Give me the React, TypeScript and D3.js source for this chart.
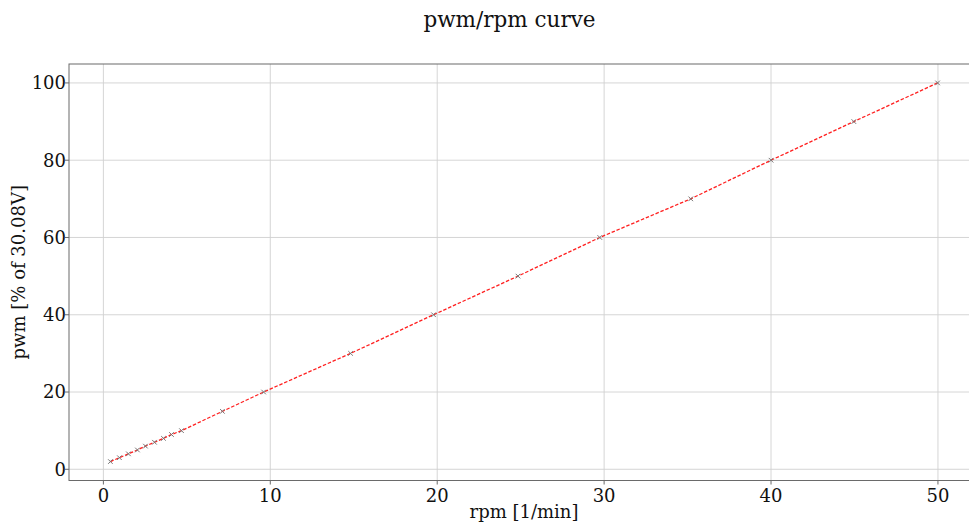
import React from "react";
import * as d3 from "d3";

const rpm = [0.42, 0.96, 1.5, 2.04, 2.52, 3.06, 3.6, 4.08, 4.68, 7.13, 9.6, 14.81, 19.78, 24.84, 29.74, 35.19, 40.0, 44.96, 49.98];
const pwm = [2, 3, 4, 5, 6, 7, 8, 9, 10, 15, 20, 30, 40, 50, 60, 70, 80, 90, 100];
const xTicks = [0, 10, 20, 30, 40, 50];
const yTicks = [0, 20, 40, 60, 80, 100];

const W = 969;
const H = 524;
const FONT = "'DejaVu Serif', serif";

export default function App() {
  const x = d3.scaleLinear().domain([-2.06, 52.46]).range([69, 979]);
  const y = d3.scaleLinear().domain([-2.9, 104.9]).range([480.5, 64]);
  const pts = rpm.map((r, i) => [r, pwm[i]] as [number, number]);
  const line = d3.line<[number, number]>().x(d => x(d[0])).y(d => y(d[1]))(pts) || "";
  const left = 69, right = 979, top = 64, bottom = 480.5;
  return (
    <svg width={W} height={H} style={{ position: "fixed", left: 0, top: 0, background: "#fff" }} fontFamily={FONT}>
      <rect x={0} y={0} width={W} height={H} fill="#fff" />
      {xTicks.map(t => (
        <line key={"gx" + t} x1={x(t)} x2={x(t)} y1={top} y2={bottom} stroke="#d0d0d0" strokeWidth={0.9} />
      ))}
      {yTicks.map(t => (
        <line key={"gy" + t} x1={left} x2={right} y1={y(t)} y2={y(t)} stroke="#d0d0d0" strokeWidth={0.9} />
      ))}
      <rect x={left} y={top} width={right - left} height={bottom - top} fill="none" stroke="#6a6a6a" strokeWidth={1} />
      {xTicks.map(t => (
        <g key={"tx" + t}>
          <line x1={x(t)} x2={x(t)} y1={bottom} y2={bottom + 4} stroke="#6a6a6a" />
          <text x={x(t)} y={502} textAnchor="middle" fontSize={18} fill="#111">{t}</text>
        </g>
      ))}
      {yTicks.map(t => (
        <g key={"ty" + t}>
          <line x1={left - 4} x2={left} y1={y(t)} y2={y(t)} stroke="#6a6a6a" />
          <text x={left - 3} y={y(t)} dy="0.35em" textAnchor="end" fontSize={18} fill="#111">{t}</text>
        </g>
      ))}
      <path d={line} fill="none" stroke="#ff2020" strokeWidth={1.3} strokeDasharray="3.5,1.8" />
      {pts.map((p, i) => {
        const cx = x(p[0]), cy = y(p[1]), s = 2.3;
        return (
          <g key={"m" + i} stroke="#777" strokeWidth={1}>
            <line x1={cx - s} x2={cx + s} y1={cy - s} y2={cy + s} />
            <line x1={cx - s} x2={cx + s} y1={cy + s} y2={cy - s} />
          </g>
        );
      })}
      <text x={509.5} y={27} textAnchor="middle" fontSize={21.5} fill="#111">pwm/rpm curve</text>
      <text x={524} y={518} textAnchor="middle" fontSize={18} fill="#111">rpm [1/min]</text>
      <text transform={`translate(25,${(top + bottom) / 2}) rotate(-90)`} textAnchor="middle" fontSize={18} fill="#111">pwm [% of 30.08V]</text>
    </svg>
  );
}
